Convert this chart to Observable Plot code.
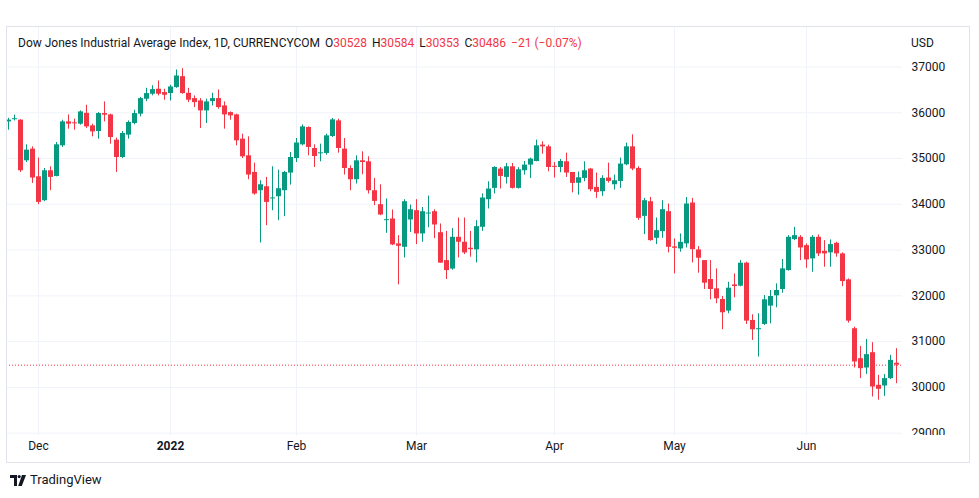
<!DOCTYPE html>
<html>
<head>
<meta charset="utf-8">
<script src="https://cdn.jsdelivr.net/npm/d3@7"></script>
<script src="https://cdn.jsdelivr.net/npm/@observablehq/plot@0.6"></script>
<style>
  html, body { margin: 0; padding: 0; background: #ffffff; }
  #wrap { position: relative; width: 979px; height: 498px; overflow: hidden; font-family: Roboto, "Liberation Sans", sans-serif; color: #131722; }
  #chart { position: absolute; left: 0; top: 0; }
  .abs { position: absolute; white-space: nowrap; }
  #legend { left: 18px; top: 35px; font-size: 12px; line-height: 16px; }
  #legend .r { color: #f23645; }
  #legend .g { margin-left: 5px; }
  #usd { left: 911px; top: 35px; font-size: 12px; line-height: 16px; }
  #cover { left: 903px; top: 435px; width: 65px; height: 26px; background: #ffffff; }
  #frame { left: 6px; top: 26px; width: 964px; height: 437px; box-sizing: border-box; border: 1px solid #e0e3eb; }
  #logo { left: 10px; top: 471px; font-size: 13px; line-height: 18px; display: flex; align-items: center; }
  #logo svg { margin-right: 4px; }
</style>
</head>
<body>
<div id="wrap">
  <div id="chart"></div>
  <div id="cover" class="abs"></div>
  <div id="frame" class="abs"></div>
  <div id="legend" class="abs"></div>
  <div id="usd" class="abs"></div>
  <div id="logo" class="abs"></div>
</div>
<script>
// ---- Data ----
const dates = [
  "2021-11-24","2021-11-25","2021-11-26","2021-11-29","2021-11-30",
  "2021-12-01","2021-12-02","2021-12-03","2021-12-06","2021-12-07","2021-12-08","2021-12-09","2021-12-10",
  "2021-12-13","2021-12-14","2021-12-15","2021-12-16","2021-12-17","2021-12-20","2021-12-21","2021-12-22",
  "2021-12-23","2021-12-27","2021-12-28","2021-12-29","2021-12-30","2021-12-31",
  "2022-01-03","2022-01-04","2022-01-05","2022-01-06","2022-01-07","2022-01-10","2022-01-11","2022-01-12",
  "2022-01-13","2022-01-14","2022-01-17","2022-01-18","2022-01-19","2022-01-20","2022-01-21","2022-01-24",
  "2022-01-25","2022-01-26","2022-01-27","2022-01-28","2022-01-31",
  "2022-02-01","2022-02-02","2022-02-03","2022-02-04","2022-02-07","2022-02-08","2022-02-09","2022-02-10",
  "2022-02-11","2022-02-14","2022-02-15","2022-02-16","2022-02-17","2022-02-18","2022-02-21","2022-02-22",
  "2022-02-23","2022-02-24","2022-02-25","2022-02-28",
  "2022-03-01","2022-03-02","2022-03-03","2022-03-04","2022-03-07","2022-03-08","2022-03-09","2022-03-10",
  "2022-03-11","2022-03-14","2022-03-15","2022-03-16","2022-03-17","2022-03-18","2022-03-21","2022-03-22",
  "2022-03-23","2022-03-24","2022-03-25","2022-03-28","2022-03-29","2022-03-30","2022-03-31",
  "2022-04-01","2022-04-04","2022-04-05","2022-04-06","2022-04-07","2022-04-08","2022-04-11","2022-04-12",
  "2022-04-13","2022-04-14","2022-04-18","2022-04-19","2022-04-20","2022-04-21","2022-04-22","2022-04-25",
  "2022-04-26","2022-04-27","2022-04-28","2022-04-29",
  "2022-05-02","2022-05-03","2022-05-04","2022-05-05","2022-05-06","2022-05-09","2022-05-10","2022-05-11",
  "2022-05-12","2022-05-13","2022-05-16","2022-05-17","2022-05-18","2022-05-19","2022-05-20","2022-05-23",
  "2022-05-24","2022-05-25","2022-05-26","2022-05-27","2022-05-30","2022-05-31",
  "2022-06-01","2022-06-02","2022-06-03","2022-06-06","2022-06-07","2022-06-08","2022-06-09","2022-06-10",
  "2022-06-13","2022-06-14","2022-06-15","2022-06-16","2022-06-17","2022-06-20","2022-06-21","2022-06-22"
];
const open = [
  35800,35860,35838,34951,35206,
  34602,34079,34733,34609,35278,35801,35780,35751,35988,35714,35590,35983,35954,35402,35023,35511,35765,
  35969,36296,36405,36514,36441,
  36419,36550,36789,36426,36310,36259,36041,36244,36310,36150,36004,35954,35424,35060,34696,34297,
  34384,34120,34166,34297,34682,
  35000,35300,35678,35220,35110,35111,35482,35823,35206,34783,34537,34951,34929,34297,33992,33650,
  33680,33135,33061,33658,
  33861,33353,33800,33839,33380,32771,32586,33280,33171,33040,33004,33498,34101,34348,34770,34588,
  34820,34348,34733,34857,34936,35293,35256,
  34830,34805,34929,34696,34460,34566,34770,34370,34275,34574,34428,34500,34864,35256,34784,33737,
  34057,33258,33403,33839,
  33070,33025,33135,34028,33004,32771,32357,32154,31921,31667,32240,32212,32714,31463,31260,31376,
  31776,32000,32139,32553,33229,33280,
  33098,32808,33280,32974,32939,33149,32917,32350,31283,30628,30424,30759,30046,30031,30192,30528
];
const high = [
  35880,35947,35850,35300,35256,
  35010,34783,34820,35350,35838,35954,35860,36041,36165,35751,36004,36237,35969,35446,35590,35823,36055,
  36332,36535,36590,36695,36514,
  36601,36935,36964,36535,36368,36310,36296,36426,36499,36237,36019,35969,35533,35474,34900,34515,
  34588,34820,34748,34718,35132,
  35438,35736,35692,35300,35315,35533,35874,35860,35438,34842,35060,35147,35038,34565,34428,34116,
  33876,33316,34101,33985,
  34101,33930,34180,33880,33571,33408,33470,33701,33701,33408,33643,34225,34493,34820,34805,34893,
  34893,34800,34936,35010,35402,35366,35293,
  34915,34980,35118,34696,34705,34929,34784,34683,34624,34900,34639,35010,35336,35518,34820,34130,
  34150,33701,34079,34007,
  33244,33353,34150,34130,33076,32771,32771,32590,31986,32299,32480,32771,32735,31587,31609,32008,
  32117,32263,32794,33316,33498,33316,
  33135,33316,33331,33207,33222,33171,32939,32370,31318,30896,31049,30977,30264,30279,30701,30846
];
const low = [
  35620,35823,34696,34914,34456,
  33992,34057,34297,34600,35242,35642,35620,35729,35656,35474,35424,35801,35315,34696,35000,35424,35736,
  35910,36244,36370,36368,36274,
  36259,36535,36405,36222,36114,35656,35765,36150,36078,35642,35838,35278,35001,34537,34200,33155,
  33534,33861,33643,33730,34420,
  34914,35278,35060,34805,34929,35075,35460,35118,34639,34297,34443,34646,34225,33970,33752,33366,
  33098,32241,32829,33388,
  33120,33170,33490,33250,32713,32357,32560,32829,32902,32844,32720,33410,33898,34225,34334,34443,
  34334,34334,34639,34566,34929,35097,34711,
  34574,34690,34588,34250,34200,34493,34275,34130,34174,34464,34312,34348,34842,34733,33650,33338,
  33193,33120,33258,32939,
  32481,32953,33047,32720,32495,32139,31914,31827,31260,31609,31958,32197,31376,31027,30663,31354,
  31390,31740,32059,32540,33207,32771,
  32603,32516,32858,32626,32626,32844,32200,31405,30424,30192,30286,29791,29719,29806,30170,30083
];
const close = [
  35840,35870,34733,35184,34574,
  34042,34733,34588,35300,35801,35751,35760,36019,35692,35583,35983,35947,35460,35023,35547,35787,35983,
  36310,36419,36506,36405,36383,
  36564,36804,36419,36274,36222,36041,36237,36310,36114,35954,35932,35387,35038,34639,34225,34428,
  34042,34140,34341,34696,35023,
  35340,35692,35242,35045,35125,35496,35845,35220,34783,34537,34951,34914,34297,34064,33767,33665,
  33113,33083,34057,33883,
  33353,33839,33810,33549,32715,32553,33280,33171,32938,33010,33512,34138,34334,34806,34609,34820,
  34348,34755,34857,34988,35278,35256,34805,
  34815,34936,34683,34457,34580,34733,34319,34261,34566,34500,34515,34879,35256,34770,33693,34079,
  33207,33425,33883,33061,
  33040,33170,34007,33010,32822,32277,32139,31936,31631,32168,32205,32714,31448,31260,31283,31914,
  31986,32117,32590,33280,33316,33047,
  32786,33280,32917,32917,33120,32917,32313,31448,30555,30410,30716,30009,29959,30192,30591,30486
];
const yTicks = [29000, 30000, 31000, 32000, 33000, 34000, 35000, 36000, 37000];
const monthLabels = ["Dec", "2022", "Feb", "Mar", "Apr", "May", "Jun"];
const titleText = "Dow Jones Industrial Average Index, 1D, CURRENCYCOM";
const legendKeys = ["O", "H", "L", "C"];
const legendVals = ["30528", "30584", "30353", "30486"];
const changeText = "\u221221 (\u22120.07%)";
const unitText = "USD";

// ---- Build rows ----
const UP = "#089981", DOWN = "#f23645";
const minBody = 22; // keeps doji bodies visible (about 1px)
const rows = dates.map((d, i) => {
  const top = Math.max(open[i], close[i]);
  let bot = Math.min(open[i], close[i]);
  if (top - bot < minBody) bot = top - minBody;
  return {i, date: d, o: open[i], h: high[i], l: low[i], c: close[i], top, bot};
});
const ups = rows.filter(r => r.c >= r.o);
const downs = rows.filter(r => r.c < r.o);

// month boundaries (first bar of each new month)
const monthIdx = [];
for (let k = 1; k < dates.length; k++) {
  if (dates[k].slice(0, 7) !== dates[k - 1].slice(0, 7)) monthIdx.push(k);
}
const ticksX = monthIdx.map((i, j) => ({i, label: monthLabels[j], year: monthLabels[j] === "2022"}));
const lastClose = close[close.length - 1];

// y mapping: 37000 -> 66.5px, 29000 -> 432.7px; plot spans 26..436
const k = (432.7 - 66.5) / 8000;
const yHi = 37000 + (66.5 - 26) / k;
const yLo = 29000 - (436 - 432.7) / k;

const GRID = "#f0f3fa";

const plot = Plot.plot({
  width: 979,
  height: 470,
  marginTop: 26,
  marginBottom: 34,
  marginLeft: 6,
  marginRight: 77,
  x: {type: "linear", domain: [-1 / 3, 149], axis: null},
  y: {type: "linear", domain: [yLo, yHi], axis: null},
  style: {fontFamily: "Roboto, 'Liberation Sans', sans-serif", fontSize: "12px", color: "#131722", background: "#ffffff"},
  marks: [
    Plot.ruleY(yTicks, {y: d => d, stroke: GRID, strokeWidth: 1}),
    Plot.ruleX(ticksX, {x: "i", stroke: GRID, strokeWidth: 1}),
    Plot.ruleY([lastClose], {y: d => d, stroke: DOWN, strokeWidth: 1, strokeDasharray: "1,2"}),
    Plot.ruleX(ups, {x: "i", y1: "l", y2: "h", stroke: UP, strokeWidth: 1, clip: true}),
    Plot.ruleX(downs, {x: "i", y1: "l", y2: "h", stroke: DOWN, strokeWidth: 1, clip: true}),
    Plot.ruleX(ups, {x: "i", y1: "bot", y2: "top", stroke: UP, strokeWidth: 5, clip: true}),
    Plot.ruleX(downs, {x: "i", y1: "bot", y2: "top", stroke: DOWN, strokeWidth: 5, clip: true}),
    Plot.text(yTicks, {y: d => d, frameAnchor: "right", dx: 9, textAnchor: "start", text: d => String(d), fill: "#131722", fontSize: 12}),
    Plot.text(ticksX.filter(t => !t.year), {x: "i", frameAnchor: "bottom", dy: 13, text: "label", fill: "#131722", fontSize: 12}),
    Plot.text(ticksX.filter(t => t.year), {x: "i", frameAnchor: "bottom", dy: 13, text: "label", fill: "#131722", fontSize: 12, fontWeight: "bold"})
  ]
});
document.getElementById("chart").appendChild(plot);

// ---- Legend / labels ----
const lg = document.getElementById("legend");
lg.appendChild(document.createTextNode(titleText));
legendKeys.forEach((key, j) => {
  const g = document.createElement("span");
  g.className = "g";
  g.appendChild(document.createTextNode(key));
  const v = document.createElement("span");
  v.className = "r";
  v.textContent = legendVals[j];
  g.appendChild(v);
  lg.appendChild(g);
});
const ch = document.createElement("span");
ch.className = "g r";
ch.textContent = changeText;
lg.appendChild(ch);

document.getElementById("usd").textContent = unitText;

const logo = document.getElementById("logo");
logo.innerHTML = '<svg width="16" height="11" viewBox="0 0 16 11"><path d="M0 0h7v11H4V3H0z" fill="#131722"/><circle cx="9.2" cy="1.6" r="1.6" fill="#131722"/><path d="M12 0h4l-4.2 11H8.2z" fill="#131722"/></svg><span>TradingView</span>';
</script>
</body>
</html>
